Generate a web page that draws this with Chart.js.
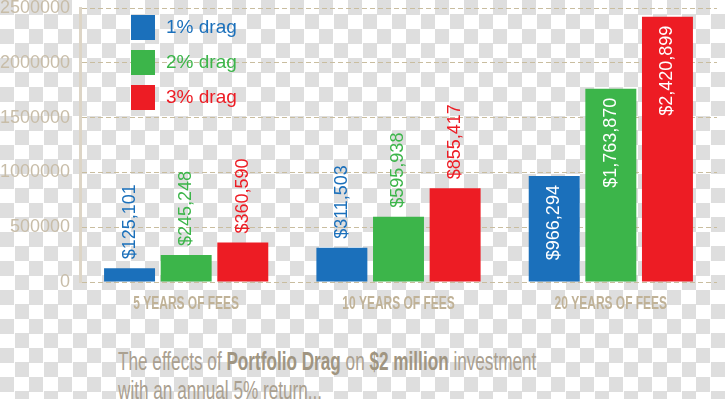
<!DOCTYPE html>
<html>
<head>
<meta charset="utf-8">
<script src="https://cdn.jsdelivr.net/npm/chart.js@4"></script>
<style>
    html, body {
        margin: 0;
        padding: 0;
    }
    body {
        width: 725px;
        height: 399px;
        overflow: hidden;
        position: relative;
        background-color: #fff;
        background-image: conic-gradient(#fff 25%, #dedede 0 50%, #fff 0 75%, #dedede 0);
        background-size: 29px 29px;
    }
    .chart-box {
        position: absolute;
        left: 0;
        top: 0;
        width: 725px;
        height: 320px;
    }
    .caption {
        position: absolute;
        left: 118px;
        top: 347px;
        font-family: "Liberation Sans Narrow", "Liberation Sans", sans-serif;
        font-size: 26px;
        line-height: 29px;
        color: #aaa090;
        white-space: nowrap;
        transform: scaleX(0.66);
        transform-origin: left top;
    }
    .caption b {
        color: #a09581;
    }
</style>
</head>
<body>
<div class="chart-box"><canvas id="dragChart"></canvas></div>
<div class="caption">The effects of <b>Portfolio Drag</b> on <b>$2 million</b> investment<br>with an annual 5% return...</div>

<script>
// Chart data
const categories = ['5 YEARS OF FEES', '10 YEARS OF FEES', '20 YEARS OF FEES'];
const seriesNames = ['1% drag', '2% drag', '3% drag'];
const drag1 = [125101, 311503, 966294];
const drag2 = [245248, 595938, 1763870];
const drag3 = [360590, 855417, 2420899];
const yTicks = [0, 500000, 1000000, 1500000, 2000000, 2500000];

const colors = ['#1b70bb', '#3cb54a', '#ed1c24'];
const TAN = '#c8bda8';
const INSIDE_FROM = 900000; // bars this tall get the label inside

// value labels, rotated, above the bar or inside for tall ones
const valueLabels = {
    id: 'valueLabels',
    afterDatasetsDraw(chart) {
        const ctx = chart.ctx;
        chart.data.datasets.forEach((ds, di) => {
            chart.getDatasetMeta(di).data.forEach((bar, i) => {
                const v = ds.data[i];
                const inside = v >= INSIDE_FROM;
                ctx.save();
                ctx.translate(bar.x, inside ? bar.y + 9 : bar.y - 9);
                ctx.rotate(-Math.PI / 2);
                ctx.font = '18px "Liberation Sans", sans-serif';
                ctx.textBaseline = 'middle';
                ctx.textAlign = inside ? 'right' : 'left';
                ctx.fillStyle = inside ? '#ffffff' : ds.backgroundColor;
                ctx.fillText('$' + v.toLocaleString('en-US'), 0, 0);
                ctx.restore();
            });
        });
    }
};

// condensed bold category names under each group
const categoryLabels = {
    id: 'categoryLabels',
    afterDraw(chart) {
        const ctx = chart.ctx;
        const xScale = chart.scales.x;
        chart.data.labels.forEach((label, i) => {
            ctx.save();
            ctx.translate(xScale.getPixelForValue(i), chart.chartArea.bottom + 22);
            ctx.scale(0.63, 1);
            ctx.font = 'bold 19px "Liberation Sans", sans-serif';
            ctx.textAlign = 'center';
            ctx.textBaseline = 'middle';
            ctx.fillStyle = '#c0b297';
            ctx.fillText(label, 0, 0);
            ctx.restore();
        });
    }
};

// legend drawn in the top-left of the plot
const boxLegend = {
    id: 'boxLegend',
    afterDraw(chart) {
        const ctx = chart.ctx;
        chart.data.datasets.forEach((ds, i) => {
            const y = 15 + i * 35;
            ctx.save();
            ctx.fillStyle = ds.backgroundColor;
            ctx.fillRect(131, y, 24, 25);
            ctx.font = '19px "Liberation Sans", sans-serif';
            ctx.textBaseline = 'middle';
            ctx.textAlign = 'left';
            ctx.fillText(ds.label, 166, y + 13);
            ctx.restore();
        });
    }
};

const ctx = document.getElementById('dragChart').getContext('2d');
new Chart(ctx, {
    type: 'bar',
    data: {
        labels: categories,
        datasets: [drag1, drag2, drag3].map((d, i) => ({
            label: seriesNames[i],
            data: d,
            backgroundColor: colors[i],
            categoryPercentage: 0.8,
            barPercentage: 0.9
        }))
    },
    options: {
        responsive: true,
        maintainAspectRatio: false,
        animation: false,
        layout: { padding: { top: 8, right: 8, left: 0, bottom: 0 } },
        plugins: {
            legend: { display: false },
            tooltip: { enabled: false }
        },
        scales: {
            x: {
                grid: { display: false },
                border: { display: false },
                ticks: { display: false },
                afterFit(scale) { scale.height = 38; }
            },
            y: {
                min: 0,
                max: 2500000,
                afterBuildTicks(scale) { scale.ticks = yTicks.map(v => ({ value: v })); },
                grid: { color: '#c9bd9f', lineWidth: 1, drawTicks: false },
                border: { display: true, color: '#ddd5c6', width: 3, dash: [5, 3] },
                ticks: {
                    color: TAN,
                    padding: 10,
                    font: { family: '"Liberation Sans"', size: 18 },
                    callback: v => String(v)
                },
                afterFit(scale) {
                    scale.width = 80;
                    scale.paddingTop = 0;
                    scale.paddingBottom = 0;
                }
            }
        }
    },
    plugins: [valueLabels, categoryLabels, boxLegend]
});
</script>
</body>
</html>
